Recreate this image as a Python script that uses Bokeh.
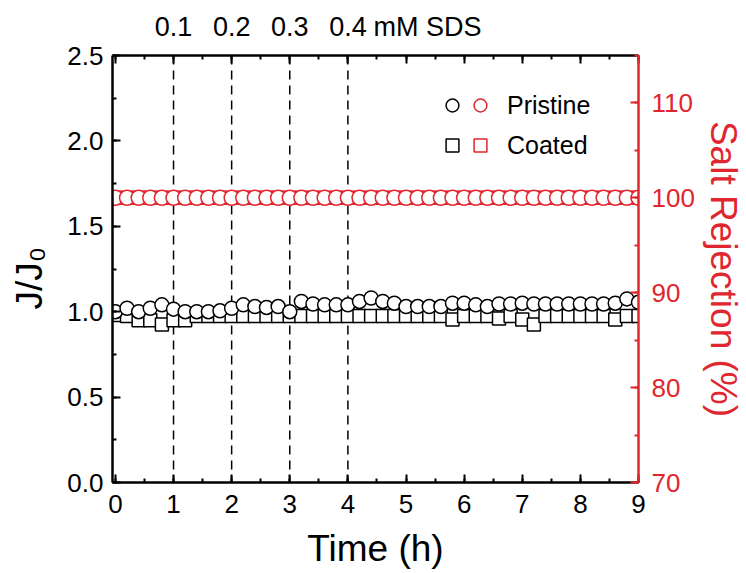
from bokeh.plotting import figure
from bokeh.models import (Range1d, LinearAxis, SingleIntervalTicker, FixedTicker, PrintfTickFormatter,
                          Span, Legend, LegendItem, CustomJSTickFormatter)
from bokeh.embed import file_html
from bokeh.resources import INLINE

# ---------------- data ----------------
time_h = [0.0, 0.2, 0.4, 0.6, 0.8, 1.0, 1.2, 1.4, 1.6, 1.8,
          2.0, 2.2, 2.4, 2.6, 2.8, 3.0, 3.2, 3.4, 3.6, 3.8,
          4.0, 4.2, 4.4, 4.6, 4.8, 5.0, 5.2, 5.4, 5.6, 5.8,
          6.0, 6.2, 6.4, 6.6, 6.8, 7.0, 7.2, 7.4, 7.6, 7.8,
          8.0, 8.2, 8.4, 8.6, 8.8, 9.0]

pristine_flux = [1.00, 1.02, 1.00, 1.02, 1.04, 1.015, 1.00, 1.00, 1.00, 1.005,
                 1.02, 1.04, 1.03, 1.025, 1.03, 1.00, 1.06, 1.045, 1.04, 1.04,
                 1.04, 1.06, 1.08, 1.06, 1.05, 1.03, 1.03, 1.03, 1.03, 1.05,
                 1.05, 1.04, 1.03, 1.045, 1.045, 1.05, 1.045, 1.045, 1.045, 1.045,
                 1.045, 1.045, 1.045, 1.05, 1.075, 1.055]

coated_flux = [0.98, 0.975, 0.95, 0.95, 0.925, 0.95, 0.95, 0.975, 0.975, 0.975,
               0.975, 0.975, 0.975, 0.975, 0.975, 0.975, 0.975, 0.975, 0.975, 0.975,
               0.975, 0.975, 0.975, 0.975, 0.975, 0.975, 0.975, 0.975, 0.975, 0.955,
               0.975, 0.975, 0.975, 0.96, 0.975, 0.955, 0.925, 0.975, 0.975, 0.975,
               0.975, 0.975, 0.975, 0.955, 0.975, 0.975]

pristine_rejection = [100.0, 100.0, 100.0, 100.0, 100.0, 100.0, 100.0, 100.0, 100.0, 100.0,
                      100.0, 100.0, 100.0, 100.0, 100.0, 100.0, 100.0, 100.0, 100.0, 100.0,
                      100.0, 100.0, 100.0, 100.0, 100.0, 100.0, 100.0, 100.0, 100.0, 100.0,
                      100.0, 100.0, 100.0, 100.0, 100.0, 100.0, 100.0, 100.0, 100.0, 100.0,
                      100.0, 100.0, 100.0, 100.0, 100.0, 100.0]

coated_rejection = [100.0, 100.0, 100.0, 100.0, 100.0, 100.0, 100.0, 100.0, 100.0, 100.0,
                    100.0, 100.0, 100.0, 100.0, 100.0, 100.0, 100.0, 100.0, 100.0, 100.0,
                    100.0, 100.0, 100.0, 100.0, 100.0, 100.0, 100.0, 100.0, 100.0, 100.0,
                    100.0, 100.0, 100.0, 100.0, 100.0, 100.0, 100.0, 100.0, 100.0, 100.0,
                    100.0, 100.0, 100.0, 100.0, 100.0, 100.0]

sds_times = [1, 2, 3, 4]
sds_labels = ["0.1", "0.2", "0.3", "0.4"]
sds_unit = "mM SDS"

# ---------------- style ----------------
FONT = "Liberation Sans"
RED = "#e0262e"
TICK_SIZE = "26px"
TOP_SIZE = 27
TITLE_SIZE = "37px"
X0, X1 = -0.05, 9.0
FRAME_W = 746 - 112 - 104

p = figure(width=746, height=573, x_range=Range1d(X0, X1), y_range=Range1d(0, 2.5),
           output_backend="svg", toolbar_location=None,
           min_border_left=112, min_border_right=104, min_border_top=55, min_border_bottom=91)
p.extra_y_ranges = {"rej": Range1d(70, 115)}
p.outline_line_color = None
p.xgrid.visible = False
p.ygrid.visible = False
p.background_fill_color = "white"
p.border_fill_color = "white"


def style_axis(ax, color):
    ax.axis_line_color = color
    ax.axis_line_width = 2.5
    ax.major_tick_line_color = color
    ax.major_tick_line_width = 2
    ax.major_tick_in = 8
    ax.major_tick_out = 0
    ax.minor_tick_line_color = color
    ax.minor_tick_line_width = 2
    ax.minor_tick_in = 4
    ax.minor_tick_out = 0
    ax.major_label_text_color = color
    ax.major_label_text_font = FONT
    ax.major_label_text_font_size = TICK_SIZE
    ax.axis_label_text_color = color
    ax.axis_label_text_font = FONT
    ax.axis_label_text_font_size = TITLE_SIZE
    ax.axis_label_text_font_style = "normal"


xax = p.xaxis[0]
xax.ticker = SingleIntervalTicker(interval=1, num_minor_ticks=2)
xax.axis_label = "Time (h)"
style_axis(xax, "black")
xax.major_label_standoff = 12
xax.axis_label_standoff = 12

yax = p.yaxis[0]
yax.ticker = SingleIntervalTicker(interval=0.5, num_minor_ticks=2)
yax.formatter = PrintfTickFormatter(format="%.1f")
yax.axis_label = "J/J\u2080\u2002"
style_axis(yax, "black")
yax.major_label_standoff = 9
yax.axis_label_standoff = 14

rax = LinearAxis(y_range_name="rej", ticker=SingleIntervalTicker(interval=10, num_minor_ticks=2),
                 axis_label="Salt Rejection (%)")
style_axis(rax, RED)
rax.major_label_standoff = 13
rax.axis_label_standoff = 5
p.add_layout(rax, "right")

# top frame axis: ticks only
tax = LinearAxis(ticker=SingleIntervalTicker(interval=1, num_minor_ticks=2),
                 formatter=CustomJSTickFormatter(code="return ''"))
style_axis(tax, "black")
tax.major_label_text_font_size = "0px"
tax.major_label_standoff = 0
p.add_layout(tax, "above")

# SDS concentration labels, carried by a bare top axis
char_w = {"0": 0.556, ".": 0.278, "4": 0.556, " ": 0.278, "m": 0.833, "M": 0.833,
          "S": 0.667, "D": 0.722}
px_per_h = FRAME_W / (X1 - X0)
last_w = sum(char_w.get(c, 0.556) for c in sds_labels[-1]) * TOP_SIZE
unit_w = sum(char_w.get(c, 0.556) for c in sds_unit) * TOP_SIZE
unit_x = sds_times[-1] + (last_w / 2 + 0.278 * TOP_SIZE + unit_w / 2) / px_per_h
label_ticks = list(sds_times) + [unit_x]
overrides = {t: s for t, s in zip(sds_times, sds_labels)}
overrides[unit_x] = sds_unit
lax = LinearAxis(ticker=FixedTicker(ticks=label_ticks, minor_ticks=[]),
                 major_label_overrides=overrides)
lax.axis_line_color = None
lax.major_tick_line_color = None
lax.minor_tick_line_color = None
lax.major_tick_in = 0
lax.major_tick_out = 0
lax.major_label_text_font = FONT
lax.major_label_text_font_size = f"{TOP_SIZE}px"
lax.major_label_text_color = "black"
lax.major_label_standoff = 14
p.add_layout(lax, "above")

# dashed SDS-dose lines
for t in sds_times:
    sp = Span(location=t, dimension="height", line_color="black", line_width=1.5, line_dash="9 6")
    sp.level = "underlay"
    p.add_layout(sp)

# markers
sq_b = p.scatter(time_h, coated_flux, marker="square", size=13, line_color="black",
                 line_width=1.5, fill_color="white")
ci_b = p.scatter(time_h, pristine_flux, marker="circle", size=14, line_color="black",
                 line_width=1.5, fill_color="white")
sq_r = p.scatter(time_h, coated_rejection, y_range_name="rej", marker="square", size=13,
                 line_color=RED, line_width=1.5, fill_color="white")
ci_r = p.scatter(time_h, pristine_rejection, y_range_name="rej", marker="circle", size=15,
                 line_color=RED, line_width=1.5, fill_color="white")

# legend: black marker column + red marker column with labels
common = dict(orientation="vertical", glyph_width=32, glyph_height=32, spacing=8, padding=0, margin=0,
              border_line_alpha=0, background_fill_alpha=0, label_text_font=FONT,
              label_text_font_size="25px", label_text_color="black")
leg1 = Legend(items=[LegendItem(label=" ", renderers=[ci_b]), LegendItem(label=" ", renderers=[sq_b])],
              location=(324, 321), label_standoff=0, **common)
leg2 = Legend(items=[LegendItem(label="Pristine", renderers=[ci_r]), LegendItem(label="Coated", renderers=[sq_r])],
              location=(352, 321), label_standoff=11, **common)
p.add_layout(leg1)
p.add_layout(leg2)

open("out.html", "w").write(file_html(p, INLINE))
